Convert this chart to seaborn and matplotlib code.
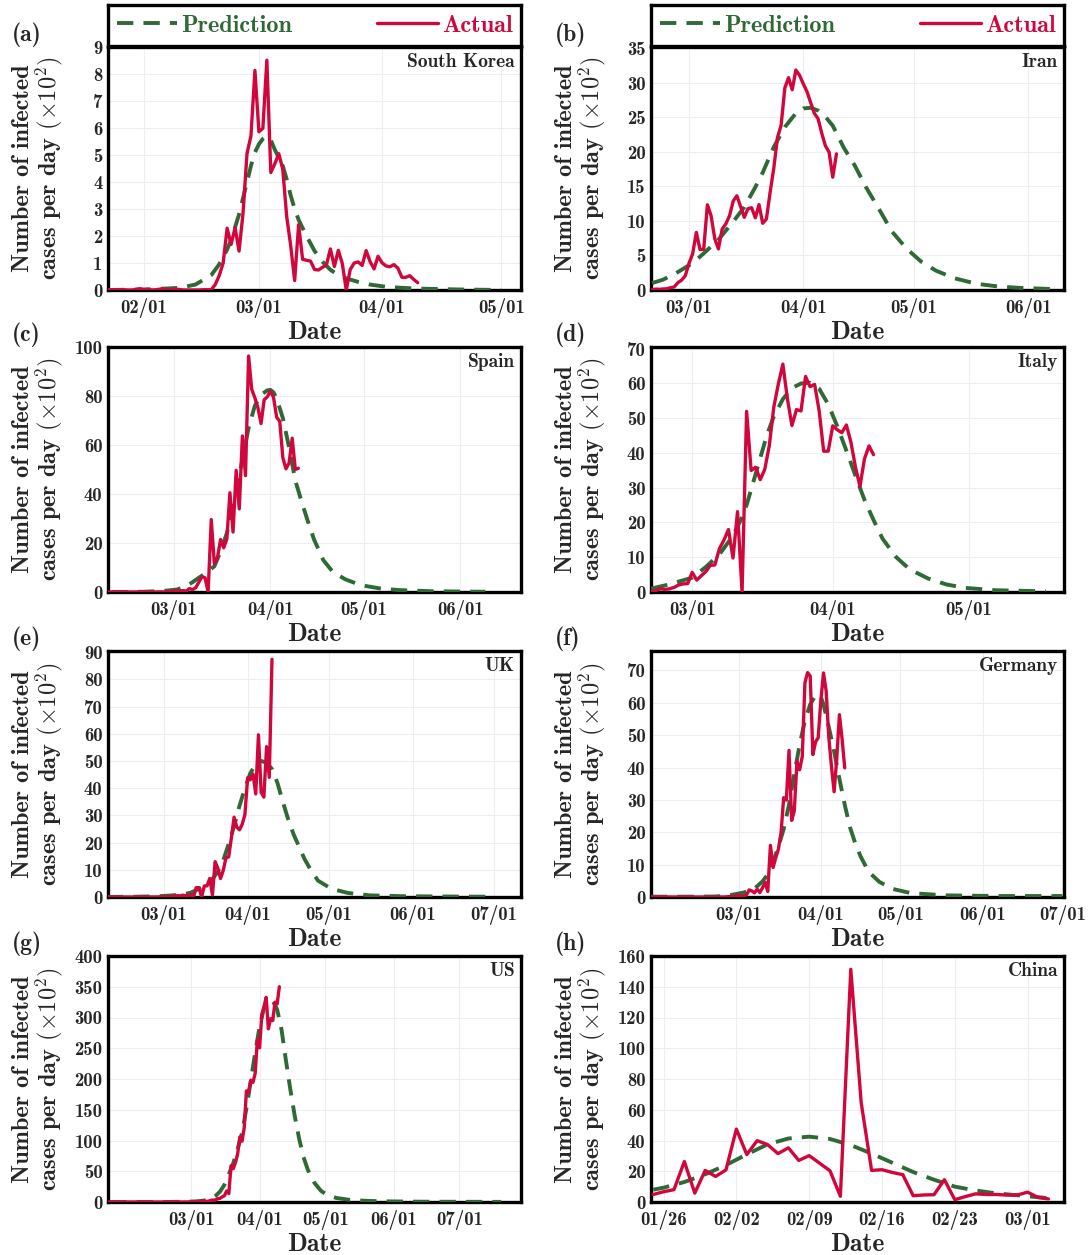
import numpy as np
import pandas as pd
import matplotlib
matplotlib.use("Agg")
import matplotlib.pyplot as plt
import matplotlib.dates as mdates
from matplotlib.lines import Line2D
import seaborn as sns

# ----------------------------------------------------------------------
# Данные (в сотнях случаев в день)
# ----------------------------------------------------------------------
ACTUAL_COLOR = "#D1063C"
PRED_COLOR = "#2F6A36"

# (a) South Korea
KOREA_START = "2020-01-23"
KOREA_ACTUAL = [0.0, 0.01, 0.0, 0.01, 0.01, 0.0, 0.0, 0.02, 0.05,
                0.01, 0.03, 0.0, 0.01, 0.03, 0.05, 0.0, 0.0, 0.03, 0.02, 0.0, 0.0, 0.0, 0.0, 0.0,
                0.01, 0.01, 0.01, 0.2, 0.53, 1.0, 2.29, 1.69, 2.31, 1.44, 2.84, 5.05, 5.71, 8.13,
                5.86, 5.99, 8.51, 4.35, 4.67, 5.05, 4.48, 2.72, 1.65, 0.35, 2.42, 1.14, 1.10, 1.07,
                0.76, 0.74, 0.84, 0.93, 1.52, 0.87, 1.47, 0.98, 0.0, 0.76, 1.00, 1.04, 0.91, 1.46,
                1.05, 0.78, 1.25,
                1.01, 0.89, 0.86, 0.94, 0.81, 0.47, 0.47, 0.53, 0.39, 0.27]
KOREA_ANCHOR = "2020-03-01"
KOREA_PRED_DAYS = [-38, -28, -20, -16, -12, -10, -8, -7, -5, -4, -3, -2, -1, 0, 1, 2, 3, 4, 5, 6,
                   7, 8, 9, 10, 12, 14, 16, 18, 20, 22, 25, 28, 32, 36, 41, 50, 61]
KOREA_PRED = [0.0, 0.02, 0.08, 0.2, 0.55, 0.95, 1.5, 1.85, 2.8, 3.4, 4.0, 4.6, 5.1, 5.4, 5.6, 5.7,
              5.55, 5.2, 4.9, 4.6, 4.1, 3.5, 3.0, 2.6, 2.0, 1.45, 1.05, 0.75, 0.55, 0.43, 0.3, 0.2,
              0.12, 0.08, 0.05, 0.02, 0.0]

# (b) Iran
IRAN_START = "2020-02-20"
IRAN_ACTUAL = [0.03, 0.13, 0.1, 0.15, 0.18, 0.34, 0.44, 1.06, 1.43, 2.05,
               3.85, 5.23, 8.35, 5.86, 5.91, 12.34, 10.76, 7.43, 5.95, 8.81, 9.58, 10.75, 12.89,
               13.65, 12.09, 10.53, 11.78, 11.92, 10.46, 12.37, 9.66, 10.28, 14.11, 17.62, 22.06,
               23.89, 29.26, 30.76, 29.01, 31.86, 31.10,
               29.87, 28.75, 27.15, 25.60, 24.83, 22.74, 20.89, 19.97, 16.34, 19.72]
IRAN_ANCHOR = "2020-03-01"
IRAN_PRED_DAYS = [-10, -7, -3, 1, 4, 8, 12, 15, 18, 20, 23, 26, 29, 31, 33, 35, 37, 39, 42, 45,
                  48, 52, 55, 59, 63, 67, 72, 78, 84, 90, 98]
IRAN_PRED = [1.0, 1.5, 2.6, 3.9, 5.3, 7.3, 9.9, 12.0, 14.9, 17.0, 20.7, 23.6, 25.6, 26.3, 26.4,
             26.0, 25.1, 23.8, 20.6, 18.0, 14.9, 11.3, 8.5, 6.0, 4.1, 2.8, 1.7, 0.9, 0.5, 0.3, 0.15]

# (c) Spain
SPAIN_START = "2020-02-09"
SPAIN_ACTUAL = [0.0] * 16 + [0.04, 0.07, 0.02, 0.17, 0.13,
                0.39, 0.36, 0.45, 0.57, 0.37, 1.41, 1.0, 1.73, 4.0, 6.22, 5.82, 0.0, 29.55, 11.59,
                14.07, 21.44, 18.06, 21.62, 40.53, 24.47, 49.64, 33.94, 63.68, 47.49, 96.3, 82.71,
                79.33, 75.16, 68.75, 78.46, 79.67,
                81.95, 79.47, 71.34, 69.69, 54.78, 50.29, 52.67, 62.78, 50.02, 50.51]
SPAIN_ANCHOR = "2020-03-01"
SPAIN_PRED_DAYS = [-20, -10, -4, -2, 1, 4, 6, 8, 10, 12, 13, 14, 15, 17, 19, 20, 22, 24, 26, 28,
                   30, 31, 32, 33, 35, 37, 39, 41, 43, 45, 48, 51, 55, 60, 66, 72, 83, 100]
SPAIN_PRED = [0.0, 0.1, 0.4, 0.6, 1.0, 2.4, 4.0, 5.8, 7.5, 9.5, 10.5, 13.5, 16.5, 24, 34, 40, 54,
              67, 76, 80.5, 82.3, 82.5, 81.5, 79, 71, 59, 45.5, 37, 29, 21.5, 13, 8.3, 5.2, 2.8,
              1.5, 0.8, 0.3, 0.1]

# (d) Italy
ITALY_START = "2020-02-21"
ITALY_ACTUAL = [0.17, 0.42, 0.93, 0.74, 0.93, 1.31, 2.02, 2.33, 2.4,
                5.66, 3.42, 4.66, 5.87, 7.69, 7.78, 12.47, 14.92, 17.97, 9.77, 23.13, 0.0, 51.98,
                34.97, 35.9, 32.33, 35.26, 42.07, 53.22, 59.86, 65.57, 55.6, 47.89, 52.49, 52.1,
                62.03, 59.09, 59.74, 52.17, 40.5, 40.53,
                47.82, 46.68, 45.85, 48.05, 43.16, 35.99, 30.39, 38.36, 42.04, 39.51]
ITALY_ANCHOR = "2020-03-01"
ITALY_PRED_DAYS = [-9, -6, -3, 0, 3, 6, 9, 11, 12, 13, 14, 15, 16, 17, 18, 20, 22, 24, 26, 28, 30,
                   32, 34, 36, 38, 40, 42, 45, 48, 52, 56, 60, 67, 78]
ITALY_PRED = [1.0, 1.9, 3.0, 4.1, 7.2, 10.8, 16.2, 21.5, 25, 29.5, 34, 38.5, 43, 47, 50.5, 55.5,
              58.7, 60, 60.2, 58.5, 54, 47.7, 40.7, 33.5, 26.5, 20.7, 15.3, 10, 6.5, 3.9, 2.2,
              1.2, 0.5, 0.2]

# (e) UK
UK_START = "2020-02-10"
UK_ACTUAL = [0.05, 0.0, 0.01] + [0.0] * 14 + [0.02, 0.05, 0.03,
             0.13, 0.04, 0.11, 0.35, 0.30, 0.48, 0.43, 0.67, 0.48, 0.62, 0.75, 0.0, 3.43, 3.42,
             0.01, 4.06, 4.09, 6.82, 0.74, 12.98, 10.53, 6.78, 9.81, 14.38, 14.76, 21.72, 29.33,
             25.67, 24.68, 26.73, 30.28,
             43.84, 43.08, 45.16, 37.88, 59.59, 38.43, 36.70, 55.25, 43.98, 87.33]
UK_ANCHOR = "2020-03-01"
UK_PRED_DAYS = [-21, -10, -2, 2, 7, 10, 12, 14, 16, 18, 20, 22, 24, 26, 28, 30, 32, 34, 36, 38,
                40, 42, 44, 46, 48, 50, 52, 54, 57, 62, 68, 76, 88, 100, 120]
UK_PRED = [0.0, 0.1, 0.3, 0.5, 0.9, 1.6, 2.5, 3.6, 5.0, 6.6, 9.3, 13.5, 19.5, 26, 33.5, 40, 45.5,
           48.8, 50, 49.3, 47, 42, 35, 28.5, 23, 18.5, 14, 10.5, 6.0, 3.0, 1.5, 0.6, 0.3, 0.2, 0.1]

# (f) Germany
GERMANY_START = "2020-01-28"
GERMANY_ACTUAL = [0.04, 0.0, 0.0, 0.01,
                  0.03, 0.02, 0.02, 0.0, 0.0, 0.0, 0.01, 0.0, 0.01, 0.0, 0.02] + [0.0] * 13 + [
                  0.01, 0.1, 0.19, 0.02, 0.31,
                  0.51, 0.29, 0.37, 0.66, 2.2, 1.88, 1.29, 2.41, 1.36, 2.81, 4.51, 1.7, 15.97, 9.1,
                  12.1, 14.77, 19.85, 30.7, 29.93, 45.28, 23.65, 26.6, 41.83, 39.3, 43.37, 66.15,
                  69.33, 68.24, 44.0, 47.9, 49.23,
                  60.64, 69.22, 63.65, 49.33, 40.31, 32.51, 42.89, 56.33, 48.85, 39.9]
GERMANY_ANCHOR = "2020-03-01"
GERMANY_PRED_DAYS = [-33, -20, -9, -6, -2, 2, 6, 9, 11, 13, 15, 17, 19, 21, 23, 25, 27, 29, 30, 31,
                     32, 34, 36, 38, 40, 42, 44, 46, 49, 53, 58, 65, 78, 98, 122]
GERMANY_PRED = [0.1, 0.1, 0.15, 0.3, 0.75, 1.4, 2.6, 4.8, 7.0, 10.8, 15.5, 21, 28.5, 38, 47, 54.5,
                59.5, 62.3, 62.5, 61.8, 59.5, 52.5, 45, 36.5, 28.5, 21.5, 16.5, 12.5, 7.8, 4.7,
                2.5, 1.2, 0.5, 0.3, 0.3]

# (g) US
US_START = "2020-01-23"
US_ACTUAL = [0.0, 0.01, 0.0, 0.03, 0.0, 0.0, 0.0, 0.01, 0.01,
             0.0, 0.01, 0.0, 0.0, 0.01, 0.0, 0.0, 0.0, 0.0, 0.01, 0.0, 0.0, 0.01, 0.0, 0.0, 0.0,
             0.0, 0.0, 0.0, 0.0, 0.2, 0.0, 0.0, 0.18, 0.0, 0.0, 0.01, 0.03, 0.07,
             0.07, 0.25, 0.24, 0.34, 0.63, 0.98, 1.16, 1.06, 1.63, 2.9, 3.07, 3.29, 5.53, 5.87,
             8.43, 10.19, 17.89, 13.65, 58.94, 54.21, 63.92, 77.83, 105.71, 98.93, 120.38,
             180.58, 178.21, 198.08, 194.44, 209.22, 263.41,
             250.7, 303.8, 317.45, 332.83, 281.52, 298.0, 295.0, 325.0, 322.0, 350.0]
US_ANCHOR = "2020-03-01"
US_PRED_DAYS = [-37, -10, -3, 2, 5, 7, 9, 11, 13, 15, 17, 19, 21, 23, 25, 27, 29, 31, 33, 35, 36,
                37, 39, 41, 43, 45, 47, 49, 51, 53, 56, 59, 62, 66, 72, 80, 90, 104, 141]
US_PRED = [0, 0.1, 0.4, 1, 2, 3, 5.5, 10, 17, 28, 45, 63, 86, 112, 152, 197, 243, 285, 315, 328,
           329, 327, 313, 280, 230, 183, 140, 103, 73, 52, 31, 18, 11, 6.5, 3.5, 1.8, 1.0, 0.5, 0.2]

# (h) China
CHINA_START = "2020-01-25"
CHINA_ACTUAL = [4.86, 6.69, 8.02, 26.32, 5.78, 20.54, 16.61, 20.89, 47.39, 30.86, 39.91, 37.33,
                31.47, 35.23, 27.04, 30.15, 25.25, 20.32, 3.73, 151.36, 64.63, 20.55, 21.0, 19.21,
                17.77, 4.08, 4.58, 4.73, 14.51, 1.5, 3.5, 5.3, 4.9, 4.9, 4.5, 4.5, 6.4, 3.0, 2.0]
CHINA_ANCHOR = "2020-01-26"
CHINA_PRED_DAYS = [-1, 0, 2, 4, 6, 8, 10, 12, 14, 16, 18, 20, 22, 24, 26, 28, 30, 32, 34, 37]
CHINA_PRED = [8, 9.3, 13, 18, 24, 31, 37.5, 41.3, 42.5, 41, 37, 31.5, 25.5, 19.5, 14.5, 10, 7.5,
              5.6, 4.4, 2.5]

# ----------------------------------------------------------------------
# Настройки панелей
# ----------------------------------------------------------------------
PANELS = [
    dict(tag="(a)", name="South Korea", start=KOREA_START, actual=KOREA_ACTUAL,
         anchor=KOREA_ANCHOR, pdays=KOREA_PRED_DAYS, pred=KOREA_PRED,
         xlim=("2020-01-23", "2020-05-06"),
         xticks=["2020-02-01", "2020-03-01", "2020-04-01", "2020-05-01"],
         ylim=9.0, yticks=np.arange(0, 10, 1)),
    dict(tag="(b)", name="Iran", start=IRAN_START, actual=IRAN_ACTUAL,
         anchor=IRAN_ANCHOR, pdays=IRAN_PRED_DAYS, pred=IRAN_PRED,
         xlim=("2020-02-19 17:00", "2020-06-10 17:00"),
         xticks=["2020-03-01", "2020-04-01", "2020-05-01", "2020-06-01"],
         ylim=35.2, yticks=np.arange(0, 36, 5)),
    dict(tag="(c)", name="Spain", start=SPAIN_START, actual=SPAIN_ACTUAL,
         anchor=SPAIN_ANCHOR, pdays=SPAIN_PRED_DAYS, pred=SPAIN_PRED,
         xlim=("2020-02-08 20:00", "2020-06-20 12:00"),
         xticks=["2020-03-01", "2020-04-01", "2020-05-01", "2020-06-01"],
         ylim=100, yticks=np.arange(0, 101, 20)),
    dict(tag="(d)", name="Italy", start=ITALY_START, actual=ITALY_ACTUAL,
         anchor=ITALY_ANCHOR, pdays=ITALY_PRED_DAYS, pred=ITALY_PRED,
         xlim=("2020-02-20 22:00", "2020-05-22"),
         xticks=["2020-03-01", "2020-04-01", "2020-05-01"],
         ylim=70.5, yticks=np.arange(0, 71, 10)),
    dict(tag="(e)", name="UK", start=UK_START, actual=UK_ACTUAL,
         anchor=UK_ANCHOR, pdays=UK_PRED_DAYS, pred=UK_PRED,
         xlim=("2020-02-09 10:00", "2020-07-11"),
         xticks=["2020-03-01", "2020-04-01", "2020-05-01", "2020-06-01", "2020-07-01"],
         ylim=90.4, yticks=np.arange(0, 91, 10)),
    dict(tag="(f)", name="Germany", start=GERMANY_START, actual=GERMANY_ACTUAL,
         anchor=GERMANY_ANCHOR, pdays=GERMANY_PRED_DAYS, pred=GERMANY_PRED,
         xlim=("2020-01-28", "2020-07-01 15:00"),
         xticks=["2020-03-01", "2020-04-01", "2020-05-01", "2020-06-01", "2020-07-01"],
         ylim=76, yticks=np.arange(0, 71, 10)),
    dict(tag="(g)", name="US", start=US_START, actual=US_ACTUAL,
         anchor=US_ANCHOR, pdays=US_PRED_DAYS, pred=US_PRED,
         xlim=("2020-01-23", "2020-07-29"),
         xticks=["2020-03-01", "2020-04-01", "2020-05-01", "2020-06-01", "2020-07-01"],
         ylim=400, yticks=np.arange(0, 401, 50)),
    dict(tag="(h)", name="China", start=CHINA_START, actual=CHINA_ACTUAL,
         anchor=CHINA_ANCHOR, pdays=CHINA_PRED_DAYS, pred=CHINA_PRED,
         xlim=("2020-01-24 19:00", "2020-03-04 12:00"),
         xticks=["2020-01-26", "2020-02-02", "2020-02-09", "2020-02-16", "2020-02-23",
                 "2020-03-01"],
         ylim=160, yticks=np.arange(0, 161, 20)),
]

# ----------------------------------------------------------------------
# Стиль
# ----------------------------------------------------------------------
sns.set_style("whitegrid")
plt.rcParams["font.family"] = ["cmb10", "DejaVu Serif"]
plt.rcParams["mathtext.fontset"] = "cm"
plt.rcParams["axes.unicode_minus"] = False
plt.rcParams["grid.color"] = "#eeeeee"
plt.rcParams["grid.linewidth"] = 0.8

W, H = 1092, 1255
fig = plt.figure(figsize=(W / 100, H / 100), dpi=100)

COL_X = [108, 651]
ROW_Y = [(47, 290), (347, 592), (651, 897), (956, 1202)]
AX_W = 413

PRED_DASH = (0, (4.2, 2.6))
YLABEL = "Number of infected\ncases per day $\\mathbf{(\\times 10^{2})}$"


def draw_panel(ax, p):
    act_dates = pd.date_range(p["start"], periods=len(p["actual"]), freq="D")
    pred_dates = pd.Timestamp(p["anchor"]) + pd.to_timedelta(p["pdays"], unit="D")
    sns.lineplot(x=pred_dates, y=p["pred"], ax=ax, color=PRED_COLOR, lw=2.8,
                 linestyle=PRED_DASH, zorder=3)
    sns.lineplot(x=act_dates, y=p["actual"], ax=ax, color=ACTUAL_COLOR, lw=2.4, zorder=4)

    ax.set_xlim(pd.Timestamp(p["xlim"][0]), pd.Timestamp(p["xlim"][1]))
    ax.set_xticks(pd.to_datetime(p["xticks"]))
    ax.xaxis.set_major_formatter(mdates.DateFormatter("%m/%d"))
    ax.set_ylim(0, p["ylim"])
    ax.set_yticks(p["yticks"])
    ax.tick_params(length=0, labelsize=13.5)
    ax.tick_params(axis="x", pad=6)
    ax.tick_params(axis="y", pad=4)

    for s in ax.spines.values():
        s.set_visible(True)
        s.set_color("black")
        s.set_linewidth(2.4)

    ax.set_xlabel("Date", fontsize=18.5, labelpad=2)
    ax.set_ylabel(YLABEL, fontsize=17.5, linespacing=0.95)
    ax.yaxis.set_label_coords(-0.105, 0.5)
    ax.text(-0.232, 1.05, p["tag"], transform=ax.transAxes, ha="left", va="center",
            fontsize=17)
    ax.text(0.985, 0.94, p["name"], transform=ax.transAxes, ha="right", va="center",
            fontsize=14)


for i, p in enumerate(PANELS):
    r, c = divmod(i, 2)
    y0, y1 = ROW_Y[r]
    ax = fig.add_axes([COL_X[c] / W, 1 - y1 / H, AX_W / W, (y1 - y0) / H])
    draw_panel(ax, p)

# Легенды над верхними панелями
for c in range(2):
    lax = fig.add_axes([COL_X[c] / W, 1 - 46 / H, AX_W / W, 41 / H])
    lax.set_xticks([])
    lax.set_yticks([])
    lax.grid(False)
    for s in lax.spines.values():
        s.set_visible(True)
        s.set_color("black")
        s.set_linewidth(2.4)
    handles = [Line2D([], [], color=PRED_COLOR, lw=2.8, linestyle=PRED_DASH),
               Line2D([], [], color=ACTUAL_COLOR, lw=2.4)]
    lax.legend(handles, ["Prediction", "Actual"], loc="center", bbox_to_anchor=(0, 0, 1, 1),
               mode="expand", ncol=2, frameon=False, fontsize=17.5, handlelength=2.5,
               handletextpad=0.15, borderaxespad=0.1, borderpad=0.25,
               labelcolor=[PRED_COLOR, ACTUAL_COLOR])

fig.savefig("out.png", dpi=100)
